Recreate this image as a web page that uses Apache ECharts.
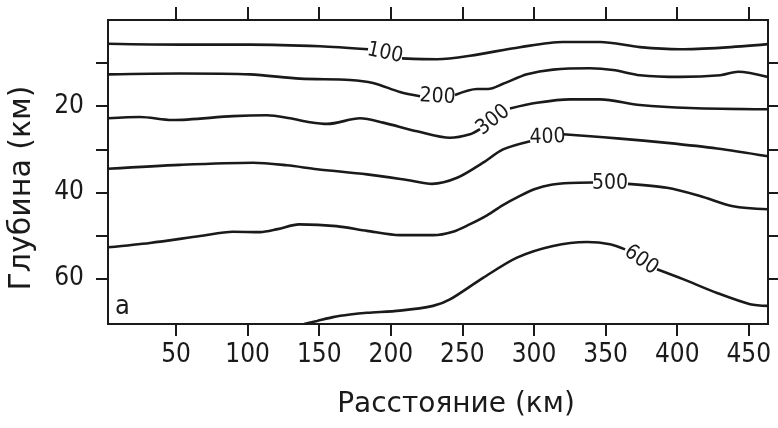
<!DOCTYPE html>
<html>
<head>
<meta charset="utf-8">
<script src="https://cdn.jsdelivr.net/npm/echarts@6/dist/echarts.min.js"></script>
<style>html,body{margin:0;padding:0;background:#fff}#c{width:778px;height:428px}</style>
</head>
<body>
<div id="c"></div>
<script>
// Distance ticks (km) and depth ticks (km)
const xTicks = [50, 100, 150, 200, 250, 300, 350, 400, 450];
const yTicks = [10, 20, 30, 40, 50, 60];
const yLabels = [20, 40, 60];

// Isolines: [distance km, depth km]; '-' marks the gap where the label sits
const iso100 = [[2.5,5.5],[52.8,5.7],[101.7,5.7],[150.6,6.1],[184.1,6.8],'-',[207.8,8.9],[232.3,9.1],[255.3,8.3],[290.2,6.3],[320.2,5.1],[346.1,5.1],[374.0,6.3],[402.0,6.8],[432.0,6.4],[463.4,5.6]];
const iso200 = [[2.5,12.6],[52.8,12.4],[101.7,12.6],[136.6,13.6],[171.5,13.9],[187.6,14.6],[206.4,16.7],[220.4,17.7],'-',[244.8,17.4],[260.2,16.0],[267.9,16.0],[278.4,14.8],[295.1,12.6],[313.3,11.5],[339.1,11.2],[355.2,11.6],[374.0,12.8],[402.0,13.2],[430.0,12.8],[442.5,12.0],[463.4,13.2]];
const iso300 = [[2.5,22.8],[24.9,22.5],[47.2,23.2],[89.8,22.3],[113.5,22.1],[129.6,22.8],[143.6,23.7],[155.7,24.1],[178.5,22.8],[194.6,23.8],[218.3,25.8],[241.3,27.3],[255.3,26.5],[262.3,25.3],'-',[283.2,20.5],[302.0,19.2],[325.1,18.4],[346.1,18.4],[374.0,19.7],[408.9,20.4],[463.4,20.7]];
const iso400 = [[2.5,34.5],[52.8,33.6],[103.8,33.1],[127.5,33.7],[148.5,34.6],[183.4,35.8],[211.3,37.1],[228.8,38.0],[246.3,36.6],[264.4,33.1],[278.4,30.0],[297.3,28.1],'-',[320.3,26.5],[337.0,26.9],[360.1,27.5],[392.9,28.5],[427.8,29.8],[463.4,31.6]];
const iso500 = [[2.5,52.7],[31.8,51.7],[66.8,50.1],[89.8,49.1],[108.7,49.2],[121.0,48.5],[136.0,47.4],[162.0,47.8],[183.4,48.9],[206.4,49.9],[229.5,49.9],[243.4,49.1],[255.0,47.4],[267.2,45.3],[278.0,43.0],[290.2,40.8],[300.7,39.2],[312.0,38.2],[325.1,37.8],[341.2,37.7],'-',[365.6,38.0],[392.9,38.9],[415.9,40.8],[439.0,43.2],[463.4,43.9]];
const iso600 = [[139.4,70.5],[148.5,69.8],[159.6,68.9],[171.5,68.3],[183.4,67.9],[206.4,67.4],[229.5,66.3],[241.3,64.8],[264.4,59.8],[288.1,55.1],[313.3,52.4],[337.0,51.5],[353.1,52.0],[363.6,53.2],'-',[385.9,57.8],[404.1,60.1],[427.8,63.3],[450.9,65.9],[463.4,66.3]];

// Isoline labels
const labelTexts = ['100','200','300','400','500','600'];
const labelPoints = [[195.9,7.7],[232.6,17.8],[271.4,23.2],[309.4,27.2],[353.1,38.0],[374.8,55.7]];
const labelAngles = [-12, -3, 38, 2, 0, -35];

const xTitle = 'Расстояние (км)';
const yTitle = 'Глубина (км)';
const panelTag = 'а';

const INK = '#1a1a1a';
const NARROW = '"Liberation Sans Narrow", "Arial Narrow", "DejaVu Sans Condensed", sans-serif';
const lines = [iso100, iso200, iso300, iso400, iso500, iso600];

function segments(d) {
  const out = [[]];
  d.forEach(function (p) {
    if (p === '-') out.push([]); else out[out.length - 1].push(p);
  });
  return out.filter(function (s) { return s.length > 1; });
}

const chart = echarts.init(document.getElementById('c'), null, {renderer: 'canvas'});

const axisLine = {show: true, onZero: false, lineStyle: {color: INK, width: 2, cap: 'square'}};

const lineSeries = [];
lines.forEach(function (d) {
  segments(d).forEach(function (seg) {
    lineSeries.push({
      type: 'line', xAxisIndex: 0, yAxisIndex: 0, data: seg,
      showSymbol: false, smooth: 0.3,
      lineStyle: {color: INK, width: 2.6}, clip: true, silent: true
    });
  });
});

const option = {
  animation: false,
  backgroundColor: '#fff',
  grid: {left: 108, right: 10, top: 20, bottom: 104, containLabel: false},
  xAxis: [
    {type: 'value', position: 'bottom', min: 2.5, max: 463.4,
     axisLine: axisLine,
     axisTick: {show: true, inside: false, length: 12, customValues: xTicks, lineStyle: {color: INK, width: 2}},
     axisLabel: {show: true, customValues: xTicks, margin: 18, fontSize: 26, color: INK, fontFamily: NARROW},
     splitLine: {show: false}},
    {type: 'value', position: 'top', min: 2.5, max: 463.4,
     axisLine: axisLine,
     axisTick: {show: true, inside: false, length: 13, customValues: xTicks, lineStyle: {color: INK, width: 2}},
     axisLabel: {show: false},
     splitLine: {show: false}}
  ],
  yAxis: [
    {type: 'value', position: 'left', inverse: true, min: 0, max: 70.5,
     axisLine: axisLine,
     axisTick: {show: true, inside: false, length: 12, customValues: yTicks, lineStyle: {color: INK, width: 2}},
     axisLabel: {show: true, customValues: yLabels, margin: 24, fontSize: 26, color: INK, fontFamily: NARROW},
     splitLine: {show: false}},
    {type: 'value', position: 'right', inverse: true, min: 0, max: 70.5,
     axisLine: axisLine,
     axisTick: {show: true, inside: false, length: 10, customValues: yTicks, lineStyle: {color: INK, width: 2}},
     axisLabel: {show: false},
     splitLine: {show: false}}
  ],
  series: lineSeries.concat([{
    type: 'scatter', xAxisIndex: 0, yAxisIndex: 0, symbolSize: 1,
    itemStyle: {color: 'rgba(0,0,0,0)', opacity: 1}, silent: true,
    data: labelPoints.map(function (p, i) {
      return {value: p, label: {show: true, position: 'inside', formatter: labelTexts[i], rotate: labelAngles[i],
        fontSize: 21, color: INK, opacity: 1, fontFamily: NARROW}};
    })
  }]),
  graphic: [
    {type: 'text', x: 456, y: 405, style: {text: xTitle, font: '28px "DejaVu Sans", sans-serif', fill: INK, align: 'center', verticalAlign: 'middle'}},
    {type: 'text', x: 22, y: 188, rotation: Math.PI / 2, style: {text: yTitle, font: '30px "DejaVu Sans", sans-serif', fill: INK, align: 'center', verticalAlign: 'middle'}},
    {type: 'text', x: 115, y: 307, style: {text: panelTag, font: '27px ' + NARROW, fill: INK, align: 'left', verticalAlign: 'middle'}}
  ]
};
chart.setOption(option);
</script>
</body>
</html>
